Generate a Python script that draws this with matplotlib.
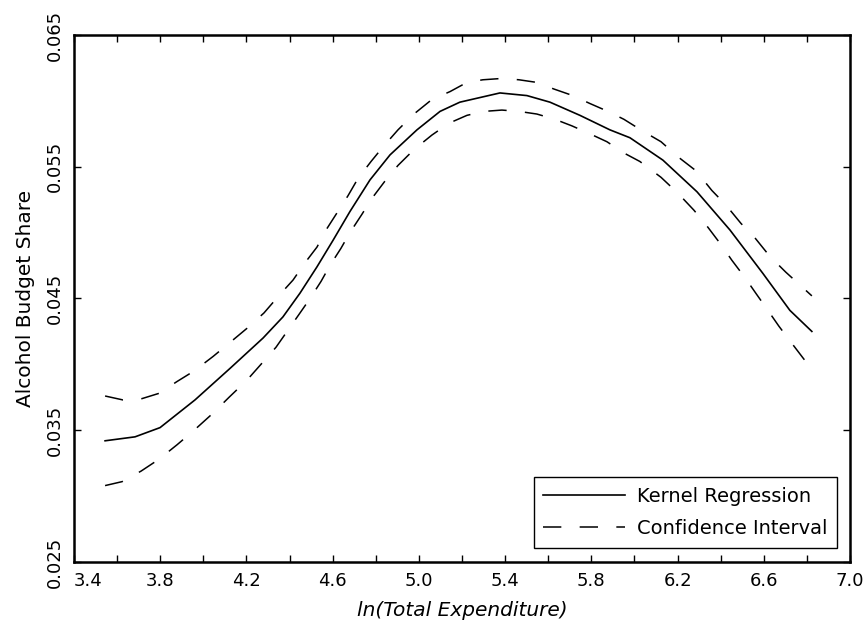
import numpy as np
import matplotlib
matplotlib.use("Agg")
import matplotlib.pyplot as plt
from matplotlib.ticker import MultipleLocator, FixedLocator

# kernel regression estimate
x_fit = [3.544, 3.683, 3.799, 3.961, 4.124, 4.277, 4.369, 4.448, 4.527, 4.601,
         4.680, 4.773, 4.866, 4.991, 5.098, 5.190, 5.376, 5.501, 5.608, 5.747,
         5.886, 5.979, 6.132, 6.290, 6.443, 6.596, 6.721, 6.823]
y_fit = [0.0342, 0.0345, 0.0352, 0.0373, 0.0397, 0.0420, 0.0436, 0.0454, 0.0474, 0.0494,
         0.0516, 0.0540, 0.0559, 0.0578, 0.0592, 0.0599, 0.0606, 0.0604, 0.0599, 0.0589,
         0.0578, 0.0572, 0.0555, 0.0531, 0.0502, 0.0469, 0.0441, 0.0425]

# upper confidence band
x_up = [3.544, 3.627, 3.715, 3.794, 3.878, 3.957, 4.045, 4.119, 4.207, 4.281,
        4.355, 4.416, 4.471, 4.527, 4.573, 4.620, 4.671, 4.717, 4.778, 4.833,
        4.903, 4.977, 5.060, 5.144, 5.223, 5.297, 5.385, 5.464, 5.547, 5.626,
        5.714, 5.793, 5.877, 5.951, 6.039, 6.123, 6.206, 6.285, 6.359, 6.424,
        6.494, 6.559, 6.628, 6.702, 6.823]
y_up = [0.0376, 0.0373, 0.0374, 0.0378, 0.0387, 0.0395, 0.0406, 0.0416, 0.0428, 0.0439,
        0.0453, 0.0464, 0.0477, 0.0489, 0.0503, 0.0515, 0.0528, 0.0541, 0.0554, 0.0565,
        0.0578, 0.0590, 0.0601, 0.0607, 0.0614, 0.0616, 0.0617, 0.0616, 0.0614, 0.0609,
        0.0604, 0.0598, 0.0592, 0.0586, 0.0577, 0.0569, 0.0557, 0.0547, 0.0532, 0.0521,
        0.0507, 0.0496, 0.0482, 0.0470, 0.0452]

# lower confidence band
x_lo = [3.544, 3.623, 3.711, 3.794, 3.878, 3.957, 4.045, 4.119, 4.202, 4.267,
        4.337, 4.444, 4.495, 4.546, 4.587, 4.638, 4.680, 4.736, 4.782, 4.842,
        4.903, 4.977, 5.060, 5.139, 5.223, 5.302, 5.385, 5.464, 5.547, 5.631,
        5.710, 5.793, 5.872, 5.956, 6.025, 6.123, 6.201, 6.276, 6.341, 6.401,
        6.452, 6.512, 6.563, 6.619, 6.670, 6.730, 6.786, 6.823]
y_lo = [0.0308, 0.0311, 0.0319, 0.0328, 0.0339, 0.0350, 0.0363, 0.0375, 0.0388, 0.0400,
        0.0413, 0.0438, 0.0450, 0.0463, 0.0475, 0.0488, 0.0500, 0.0514, 0.0526, 0.0539,
        0.0551, 0.0563, 0.0574, 0.0583, 0.0589, 0.0592, 0.0593, 0.0592, 0.0590, 0.0586,
        0.0581, 0.0575, 0.0569, 0.0560, 0.0554, 0.0542, 0.0530, 0.0517, 0.0504, 0.0491,
        0.0479, 0.0466, 0.0454, 0.0441, 0.0429, 0.0416, 0.0404, 0.0397]

x_ticks = [3.4, 3.8, 4.2, 4.6, 5.0, 5.4, 5.8, 6.2, 6.6, 7.0]
y_ticks = [0.025, 0.035, 0.045, 0.055, 0.065]

plt.rcParams["font.family"] = ["DejaVu Sans"]

fig = plt.figure(figsize=(8.67, 6.29), dpi=100)
ax = fig.add_axes([0.0854, 0.1065, 0.8950, 0.8379])

ax.plot(x_fit, y_fit, color="black", lw=1.2, label="Kernel Regression")
band, = ax.plot(x_up, y_up, color="black", lw=1.1, label="Confidence Interval")
band.set_dashes((12, 12))
band2, = ax.plot(x_lo, y_lo, color="black", lw=1.1)
band2.set_dashes((12, 12))

ax.set_xlim(3.4, 7.0)
ax.set_ylim(0.025, 0.065)
ax.xaxis.set_major_locator(FixedLocator(x_ticks))
ax.xaxis.set_minor_locator(MultipleLocator(0.2))
ax.yaxis.set_major_locator(FixedLocator(y_ticks))
ax.set_xticklabels([f"{v:.1f}" for v in x_ticks])
ax.set_yticklabels([f"{v:.3f}" for v in y_ticks], rotation=90, va="center")
ax.get_xticklabels()[0].set_horizontalalignment("left")

ax.tick_params(which="both", direction="in", top=True, right=True,
               length=5, width=1, labelsize=13, pad=7)
for s in ax.spines.values():
    s.set_linewidth(1.8)

ax.set_xlabel("ln(Total Expenditure)", fontsize=14.5, style="italic", labelpad=8)
ax.set_ylabel("Alcohol Budget Share", fontsize=14.5, labelpad=8)

leg = ax.legend(loc="lower right", bbox_to_anchor=(0.983, 0.0266), borderaxespad=0,
                fontsize=14, handlelength=4.2, handletextpad=0.6, fancybox=False,
                edgecolor="black", framealpha=1, borderpad=0.5, labelspacing=0.7)
leg.get_frame().set_linewidth(1.0)

fig.savefig("out.png", dpi=100)
